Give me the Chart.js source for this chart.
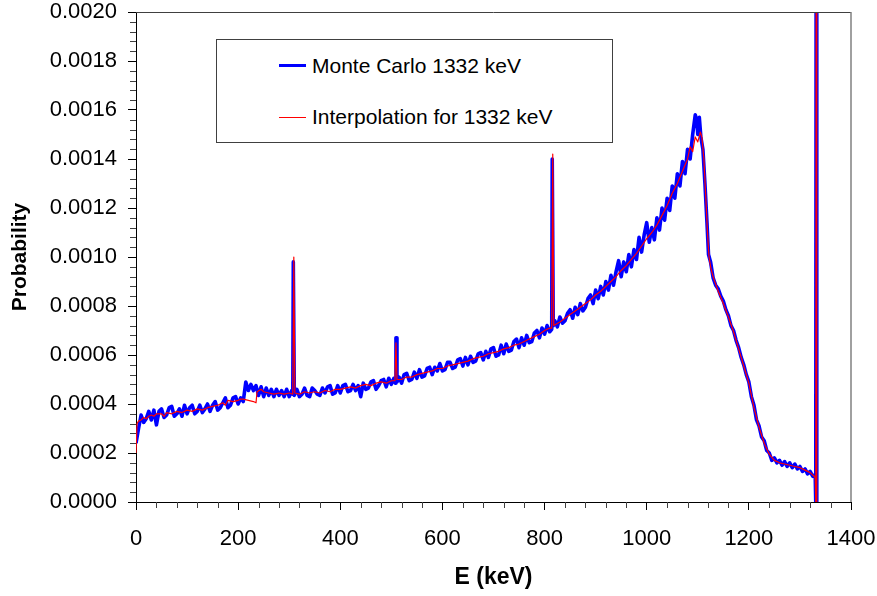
<!DOCTYPE html>
<html>
<head>
<meta charset="utf-8">
<title>Monte Carlo vs interpolation, 1332 keV</title>
<script src="https://cdn.jsdelivr.net/npm/chart.js@4.4.1/dist/chart.umd.min.js"></script>
<style>
  html, body { margin:0; padding:0; background:#fff; }
  #wrap { position:relative; width:877px; height:596px; }
  #legend-box {
    position:absolute; left:216px; top:39px; width:395px; height:102px;
    border:1px solid #404040; background:#fff;
    font-family:'Liberation Sans', Arial, sans-serif; font-size:21px; color:#000;
  }
  .lg-row { position:absolute; left:0; right:0; height:24px; }
  .lg-line { position:absolute; left:62px; width:27px; }
  .lg-text { position:absolute; left:95px; top:0; line-height:24px; white-space:nowrap; }
</style>
</head>
<body>
<div id="wrap">
  <canvas id="mainChart" width="877" height="596"></canvas>
  <div id="legend-box">
    <div class="lg-row" style="top:14px">
      <div class="lg-line" style="top:10px;height:3px;background:#0000ff"></div>
      <div class="lg-text">Monte Carlo 1332 keV</div>
    </div>
    <div class="lg-row" style="top:65px">
      <div class="lg-line" style="top:12px;height:1px;background:#ff0000"></div>
      <div class="lg-text">Interpolation for 1332 keV</div>
    </div>
  </div>
</div>
<script>
/* ======= Dados ======= */
const xTickValues = [0, 200, 400, 600, 800, 1000, 1200, 1400];
const yTickValues = [0, 0.0002, 0.0004, 0.0006, 0.0008, 0.0010, 0.0012, 0.0014, 0.0016, 0.0018, 0.0020];

// Monte Carlo 1332 keV (azul)
const mcEnergy = [
  0,5,10,15,20,25,30,35,40,45,50,55,60,65,70,75,80,85,90,95,
  100,105,110,115,120,125,130,135,140,145,150,155,160,165,170,175,180,185,190,195,
  200,205,210,215,220,225,230,235,240,245,250,255,260,265,270,275,280,285,290,295,
  300,305,307,308,309,310,
  315,320,325,330,335,340,345,350,355,360,365,370,375,380,385,390,395,
  400,405,410,415,420,425,430,435,440,445,450,455,460,465,470,475,480,485,490,495,500,505,
  508,509,510,511,
  515,520,525,530,535,540,545,550,555,560,565,570,575,580,585,590,595,600,605,610,
  615,620,625,630,635,640,645,650,655,660,665,670,675,680,685,690,695,700,705,710,
  715,720,725,730,735,740,745,750,755,760,765,770,775,780,785,790,795,800,805,810,
  814,815,816,817,
  820,825,830,835,840,845,850,855,860,865,870,875,880,885,890,895,900,905,910,915,
  920,925,930,935,940,945,950,955,960,965,970,975,980,985,990,995,1000,1005,1010,1015,
  1020,1025,1030,1035,1040,1045,1050,1055,1060,1065,1070,1075,1080,1085,1090,1095,
  1098,1100,1103,1106,1110,1114,1118,1121,1125,
  1130,1135,1140,1145,1150,1155,1160,1165,1170,1175,1180,1185,1190,1195,1200,1205,1210,1215,1220,1225,
  1230,1235,1240,1245,1250,1255,1260,1265,1270,1275,1280,1285,1290,1295,1300,1305,1310,1315,1320,1325,
  1328,1330,1331,1332,1333
];
const mcProb = [
  2.4e-4,3.0e-4,3.55e-4,3.25e-4,3.4e-4,3.7e-4,3.35e-4,3.75e-4,3.15e-4,3.7e-4,3.8e-4,3.45e-4,3.55e-4,3.85e-4,3.9e-4,3.5e-4,3.6e-4,3.8e-4,3.5e-4,3.95e-4,
  3.6e-4,3.85e-4,3.95e-4,3.6e-4,3.7e-4,3.95e-4,3.65e-4,3.8e-4,4.0e-4,3.7e-4,3.95e-4,4.1e-4,3.75e-4,3.85e-4,4.05e-4,4.25e-4,3.85e-4,3.95e-4,4.25e-4,4.3e-4,
  4.0e-4,4.25e-4,4.1e-4,4.9e-4,4.55e-4,4.8e-4,4.55e-4,4.75e-4,4.35e-4,4.7e-4,4.3e-4,4.65e-4,4.35e-4,4.6e-4,4.3e-4,4.6e-4,4.35e-4,4.55e-4,4.3e-4,4.6e-4,
  4.3e-4,4.55e-4,4.4e-4,9.8e-4,9.8e-4,4.35e-4,
  4.6e-4,4.3e-4,4.4e-4,4.65e-4,4.35e-4,4.3e-4,4.65e-4,4.55e-4,4.4e-4,4.35e-4,4.65e-4,4.45e-4,4.7e-4,4.75e-4,4.4e-4,4.45e-4,4.75e-4,
  4.45e-4,4.75e-4,4.8e-4,4.5e-4,4.55e-4,4.8e-4,4.55e-4,4.75e-4,4.3e-4,4.85e-4,4.6e-4,4.65e-4,4.9e-4,4.95e-4,4.6e-4,4.75e-4,4.95e-4,5.0e-4,4.7e-4,5.05e-4,4.8e-4,5.05e-4,
  4.85e-4,6.7e-4,6.7e-4,4.9e-4,
  5.1e-4,4.85e-4,5.2e-4,5.25e-4,4.95e-4,5.0e-4,5.3e-4,5.05e-4,5.4e-4,5.1e-4,5.15e-4,5.45e-4,5.5e-4,5.2e-4,5.5e-4,5.35e-4,5.65e-4,5.35e-4,5.4e-4,5.7e-4,
  5.7e-4,5.45e-4,5.5e-4,5.8e-4,5.85e-4,5.55e-4,5.9e-4,5.6e-4,5.95e-4,5.7e-4,5.75e-4,6.05e-4,6.1e-4,5.8e-4,6.15e-4,5.9e-4,6.25e-4,6.3e-4,5.95e-4,6.0e-4,
  6.4e-4,6.05e-4,6.45e-4,6.15e-4,6.2e-4,6.55e-4,6.65e-4,6.3e-4,6.7e-4,6.4e-4,6.8e-4,6.5e-4,6.55e-4,6.9e-4,7.0e-4,6.7e-4,7.1e-4,6.85e-4,7.2e-4,6.95e-4,
  7.05e-4,14.0e-4,14.0e-4,7.2e-4,
  7.4e-4,7.15e-4,7.55e-4,7.3e-4,7.4e-4,7.7e-4,7.85e-4,7.5e-4,7.95e-4,7.65e-4,8.1e-4,7.8e-4,7.95e-4,8.3e-4,8.45e-4,8.1e-4,8.65e-4,8.3e-4,8.8e-4,8.45e-4,
  9.0e-4,8.65e-4,9.25e-4,8.85e-4,9.4e-4,9.85e-4,9.2e-4,9.8e-4,9.4e-4,10.1e-4,9.6e-4,10.3e-4,9.9e-4,10.8e-4,10.2e-4,10.9e-4,11.4e-4,10.6e-4,11.2e-4,10.7e-4,
  11.6e-4,11.1e-4,12.0e-4,11.5e-4,12.4e-4,11.9e-4,12.9e-4,12.4e-4,13.4e-4,12.9e-4,13.9e-4,13.4e-4,14.4e-4,14.0e-4,15.0e-4,15.8e-4,
  15.6e-4,15.0e-4,15.7e-4,14.9e-4,14.4e-4,13.0e-4,11.4e-4,10.1e-4,9.8e-4,
  9.15e-4,8.85e-4,8.7e-4,8.4e-4,8.2e-4,7.85e-4,7.6e-4,7.2e-4,7.0e-4,6.6e-4,6.3e-4,5.9e-4,5.6e-4,5.2e-4,4.9e-4,4.3e-4,3.95e-4,3.35e-4,3.1e-4,2.65e-4,
  2.5e-4,2.1e-4,2.0e-4,1.7e-4,1.8e-4,1.6e-4,1.7e-4,1.5e-4,1.65e-4,1.45e-4,1.6e-4,1.4e-4,1.55e-4,1.35e-4,1.45e-4,1.25e-4,1.35e-4,1.15e-4,1.25e-4,1.05e-4,
  1.1e-4,1.0e-4,0,30e-4,0
];

// Interpolation for 1332 keV (vermelho)
const interpEnergy = [
  0,2,5,10,15,20,25,30,35,40,50,55,60,70,80,90,
  100,110,120,130,140,150,160,170,175,180,190,
  200,205,210,220,230,235,237,245,250,260,270,280,290,
  300,307,309,311,320,330,340,350,360,370,380,390,
  400,410,420,430,440,450,460,470,480,490,
  500,507,509,511,520,530,540,550,560,570,580,590,
  600,610,620,630,640,650,660,670,680,690,
  700,710,720,730,740,750,760,770,780,790,
  800,810,814,816,818,830,840,850,860,870,880,890,
  900,910,920,930,940,950,960,970,980,990,
  1000,1010,1020,1030,1040,1050,1060,1070,1080,1085,1090,1095,
  1100,1105,1108,1112,1116,1119,1122,1126,1130,1140,1150,1160,1170,1180,1190,
  1200,1210,1220,1230,1240,1250,1260,1270,1280,1290,
  1300,1310,1320,1328,1330,1331,1332,1333
];
const interpProb = [
  2.0e-4,3.2e-4,3.3e-4,3.35e-4,3.45e-4,3.4e-4,3.5e-4,3.55e-4,3.5e-4,3.6e-4,3.6e-4,3.5e-4,3.65e-4,3.6e-4,3.7e-4,3.65e-4,
  3.75e-4,3.7e-4,3.8e-4,3.75e-4,3.85e-4,3.9e-4,3.95e-4,4.05e-4,3.95e-4,4.15e-4,4.1e-4,
  4.15e-4,4.2e-4,4.2e-4,4.15e-4,4.1e-4,4.05e-4,4.5e-4,4.6e-4,4.5e-4,4.45e-4,4.4e-4,4.45e-4,4.4e-4,
  4.45e-4,4.4e-4,10.0e-4,4.45e-4,4.4e-4,4.5e-4,4.45e-4,4.5e-4,4.45e-4,4.55e-4,4.5e-4,4.6e-4,
  4.6e-4,4.65e-4,4.7e-4,4.65e-4,4.75e-4,4.8e-4,4.75e-4,4.85e-4,4.9e-4,4.85e-4,
  4.95e-4,4.95e-4,6.5e-4,5.0e-4,5.0e-4,5.1e-4,5.1e-4,5.2e-4,5.25e-4,5.3e-4,5.35e-4,5.45e-4,
  5.45e-4,5.55e-4,5.6e-4,5.65e-4,5.7e-4,5.75e-4,5.85e-4,5.9e-4,5.95e-4,6.05e-4,
  6.1e-4,6.15e-4,6.25e-4,6.3e-4,6.4e-4,6.45e-4,6.55e-4,6.65e-4,6.75e-4,6.85e-4,
  7.0e-4,7.1e-4,7.1e-4,14.2e-4,7.2e-4,7.35e-4,7.5e-4,7.65e-4,7.8e-4,7.95e-4,8.1e-4,8.25e-4,
  8.45e-4,8.6e-4,8.8e-4,9.0e-4,9.2e-4,9.45e-4,9.65e-4,9.9e-4,10.15e-4,10.45e-4,
  10.75e-4,11.0e-4,11.3e-4,11.7e-4,12.1e-4,12.6e-4,13.0e-4,13.5e-4,14.0e-4,14.5e-4,14.3e-4,14.9e-4,
  14.7e-4,15.1e-4,14.9e-4,14.0e-4,12.3e-4,11.0e-4,10.0e-4,9.5e-4,9.2e-4,8.6e-4,8.1e-4,7.55e-4,6.95e-4,6.25e-4,5.55e-4,
  4.85e-4,3.85e-4,3.05e-4,2.4e-4,1.95e-4,1.7e-4,1.6e-4,1.55e-4,1.5e-4,1.45e-4,
  1.4e-4,1.3e-4,1.2e-4,1.05e-4,1.0e-4,0,30e-4,0
];

/* ======= Estilo ======= */
const FONT = "'Liberation Sans', Arial, sans-serif";

function toPoints(xs, ys) {
  return xs.map((x, i) => ({ x: x, y: ys[i] }));
}

// ticks menores + moldura (topo e direita)
const minorTicksPlugin = {
  id: 'minorTicks',
  afterDraw(chart) {
    const { ctx, chartArea: a, scales } = chart;
    const sx = scales.x, sy = scales.y;
    ctx.save();
    ctx.lineWidth = 1;
    ctx.strokeStyle = '#404040';
    ctx.beginPath();
    for (let v = 40; v < 1400; v += 40) {
      if (v % 200 === 0) continue;
      const px = Math.round(sx.getPixelForValue(v)) + 0.5;
      ctx.moveTo(px, a.bottom); ctx.lineTo(px, a.bottom + 6);
    }
    for (let i = 1; i < 50; i++) {
      if (i % 5 === 0) continue;
      const py = Math.round(sy.getPixelForValue(i * 0.00004)) + 0.5;
      ctx.moveTo(a.left - 6, py); ctx.lineTo(a.left, py);
    }
    ctx.stroke();

    ctx.strokeStyle = '#404040';
    ctx.beginPath();
    ctx.moveTo(a.left, Math.round(a.top) + 0.5); ctx.lineTo(a.right, Math.round(a.top) + 0.5);
    ctx.stroke();
    ctx.strokeStyle = '#808080';
    ctx.lineWidth = 1.5;
    ctx.beginPath();
    ctx.moveTo(Math.round(a.right), a.top); ctx.lineTo(Math.round(a.right), a.bottom);
    ctx.stroke();
    ctx.restore();
  }
};

const ctx = document.getElementById('mainChart').getContext('2d');
new Chart(ctx, {
  type: 'line',
  data: {
    datasets: [
      { label: 'Monte Carlo 1332 keV', data: toPoints(mcEnergy, mcProb),
        borderColor: '#0000ff', borderWidth: 3.6, borderJoinStyle: 'round',
        pointRadius: 0, tension: 0, fill: false, order: 2 },
      { label: 'Interpolation for 1332 keV', data: toPoints(interpEnergy, interpProb),
        borderColor: '#ff0000', borderWidth: 1.2, borderJoinStyle: 'round',
        pointRadius: 0, tension: 0, fill: false, order: 1 }
    ]
  },
  options: {
    responsive: false, animation: false,
    layout: { padding: { left: 0, right: 26, top: 12, bottom: 0 } },
    plugins: { legend: { display: false }, tooltip: { enabled: false } },
    scales: {
      x: {
        type: 'linear', min: 0, max: 1400,
        afterBuildTicks: (s) => { s.ticks = xTickValues.map(v => ({ value: v })); },
        afterFit: (s) => { s.height = 94; s.paddingLeft = 0; s.paddingRight = 0; },
        grid: { display: true, drawOnChartArea: false, drawTicks: true, tickLength: 8, tickColor: '#000' },
        border: { display: true, color: '#000', width: 1 },
        ticks: { color: '#000', padding: 16, maxRotation: 0, callback: (v) => String(v),
                 font: { family: FONT, size: 22 } },
        title: { display: true, text: 'E (keV)', color: '#000', padding: { top: 0, bottom: 5 },
                 font: { family: FONT, size: 23, weight: 'bold' } }
      },
      y: {
        type: 'linear', min: 0, max: 0.002,
        afterBuildTicks: (s) => { s.ticks = yTickValues.map(v => ({ value: v })); },
        afterFit: (s) => { s.width = 136; s.paddingTop = 0; s.paddingBottom = 0; },
        grid: { display: true, drawOnChartArea: false, drawTicks: true, tickLength: 8, tickColor: '#000' },
        border: { display: true, color: '#000', width: 1 },
        ticks: { color: '#000', padding: 11, callback: (v) => Number(v).toFixed(4), font: { family: FONT, size: 22 } },
        title: { display: true, text: 'Probability', color: '#000', padding: { top: 8, bottom: 0 },
                 font: { family: FONT, size: 21, weight: 'bold' } }
      }
    }
  },
  plugins: [minorTicksPlugin]
});
</script>
</body>
</html>
